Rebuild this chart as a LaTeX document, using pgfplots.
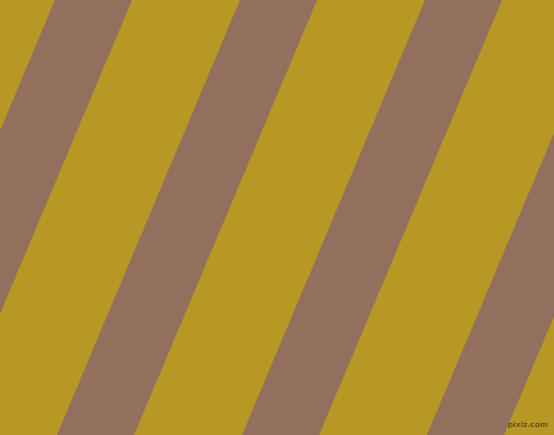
\documentclass[border=0pt]{standalone}
\usepackage{pgfplots}
\pgfplotsset{compat=1.18}
\usepackage{fontspec}
\setsansfont{DejaVu Sans}

\definecolor{stripegold}{RGB}{183,152,37}
\definecolor{stripebrown}{RGB}{147,112,94}
\definecolor{markdark}{RGB}{100,84,28}

\begin{document}
\begin{tikzpicture}
\begin{axis}[
    scale only axis,
    width=554pt, height=435pt,
    xmin=0, xmax=554,
    ymin=0, ymax=435,
    hide axis,
    clip=true,
]
% background
\addplot[fill=stripegold, draw=none] coordinates {(0,0)(554,0)(554,435)(0,435)} --cycle;

% brown diagonal stripes (top edge at y=435, bottom edge at y=0)
\addplot[fill=stripebrown, draw=none] coordinates {(55,435)(132,435)(-51,0)(-128,0)} --cycle;
\addplot[fill=stripebrown, draw=none] coordinates {(240,435)(317,435)(134,0)(57,0)} --cycle;
\addplot[fill=stripebrown, draw=none] coordinates {(425,435)(502,435)(319,0)(242,0)} --cycle;
\addplot[fill=stripebrown, draw=none] coordinates {(610,435)(687,435)(504,0)(427,0)} --cycle;

\node[anchor=south east, inner sep=0pt, text=markdark,
      font=\sffamily\bfseries\fontsize{7.5}{8}\selectfont]
    at (axis cs:548,6) {pixiz.com};
\end{axis}
\end{tikzpicture}
\end{document}
